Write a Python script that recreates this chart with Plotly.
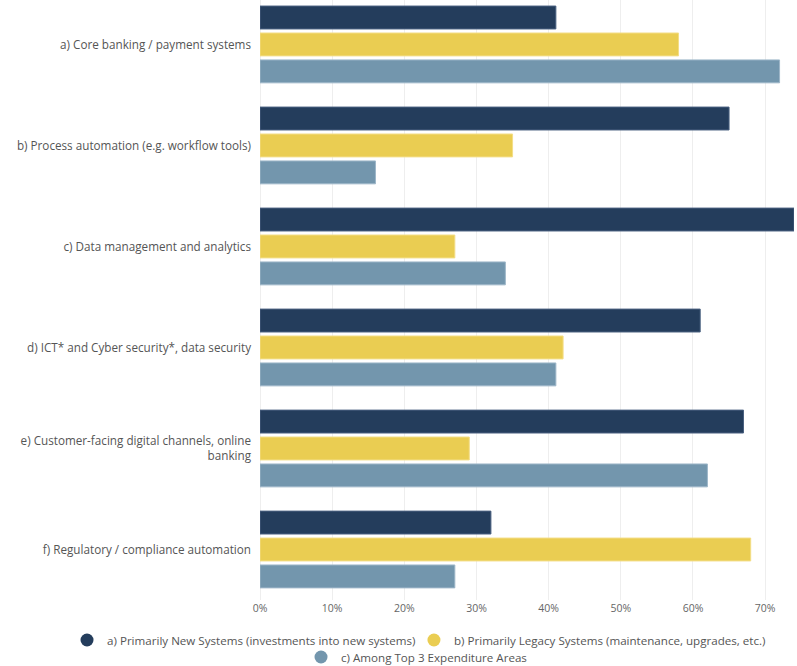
import plotly.graph_objects as go

categories = [
    "a) Core banking / payment systems",
    "b) Process automation (e.g. workflow tools)",
    "c) Data management and analytics",
    "d) ICT* and Cyber security*, data security",
    "e) Customer-facing digital channels, online<br>banking",
    "f) Regulatory / compliance automation",
]
new_systems = [41, 65, 74, 61, 67, 32]
legacy_systems = [58, 35, 27, 42, 29, 68]
top3_areas = [72, 16, 34, 41, 62, 27]

series_names = [
    "a) Primarily New Systems (investments into new systems)",
    "b) Primarily Legacy Systems (maintenance, upgrades, etc.)",
    "c) Among Top 3 Expenditure Areas",
]
series_values = [new_systems, legacy_systems, top3_areas]
colors = ["#243D5C", "#EACD52", "#7396AD"]
outline = ["#4A6180", "#F3DD86", "#9DB6C8"]
legend_ids = ["legend", "legend2", "legend3"]

x_ticks = [0, 10, 20, 30, 40, 50, 60, 70]
x_tick_text = [f"{v}%" for v in x_ticks]

fig = go.Figure()
for name, vals, col, oc in zip(series_names, series_values, colors, outline):
    fig.add_trace(go.Bar(
        y=categories, x=vals, orientation="h", name=name,
        marker=dict(color=col, line=dict(color=oc, width=1)),
        showlegend=False,
    ))

# circular legend markers, one legend per entry
for name, col, lg in zip(series_names, colors, legend_ids):
    fig.add_trace(go.Scatter(
        x=[None], y=[None], mode="markers", name=name,
        marker=dict(color=col, size=13, symbol="circle"),
        showlegend=True, legend=lg,
    ))

font_family = "Open Sans, DejaVu Sans, sans-serif"
legend_font = dict(size=11.6, color="#555555", family=font_family)


def legend_box(x, y):
    return dict(
        orientation="h", x=x, xanchor="left", xref="container",
        y=y, yanchor="middle", yref="container",
        font=legend_font, itemwidth=30, bgcolor="rgba(0,0,0,0)",
    )


fig.update_layout(
    width=797, height=666,
    margin=dict(l=260, r=3, t=0, b=66, autoexpand=False),
    plot_bgcolor="white", paper_bgcolor="white",
    barmode="group", bargap=0.2, bargroupgap=0.15,
    font=dict(family=font_family, size=11, color="#555555"),
    xaxis=dict(
        range=[0, 74], tickvals=x_ticks, ticktext=x_tick_text,
        showgrid=True, gridcolor="#EEEEEE", gridwidth=1,
        zeroline=True, zerolinecolor="#EEEEEE", zerolinewidth=1,
        tickfont=dict(size=10.5, color="#666666"), ticks="",
        showline=False,
    ),
    yaxis=dict(
        range=[5.5, -0.44], type="category",
        showgrid=False, zeroline=False, ticks="",
        ticklabelstandoff=8,
        tickfont=dict(size=11.7, color="#555555"),
    ),
    legend=legend_box(0.0841, 0.039),
    legend2=legend_box(0.5194, 0.039),
    legend3=legend_box(0.3777, 0.0135),
    showlegend=True,
)

fig.write_html("out.html")
